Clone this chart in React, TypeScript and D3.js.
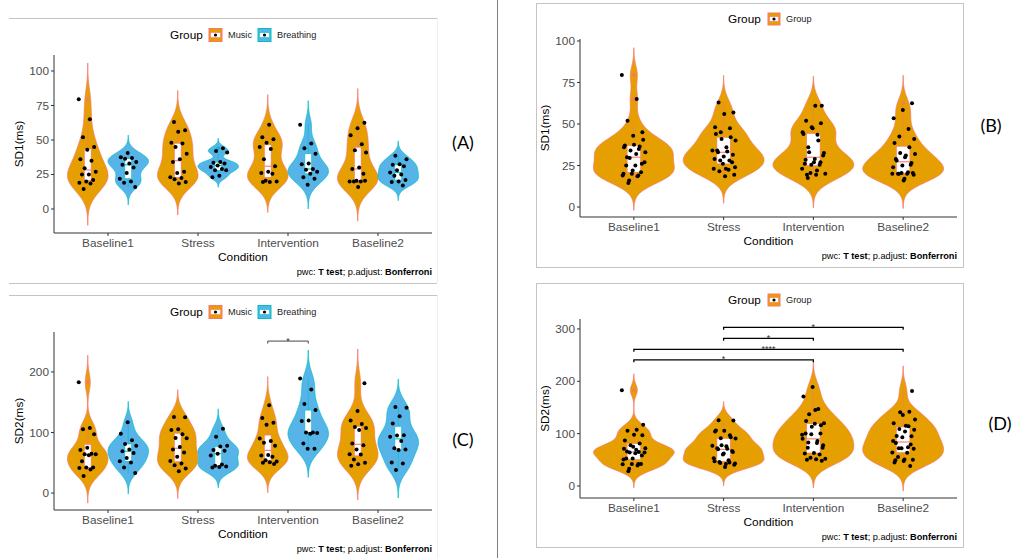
import React from "react";
import * as d3 from "d3";

const conditions = ["Baseline1", "Stress", "Intervention", "Baseline2"];

// SD1 (ms) by condition, per group
const sd1Music = [
  [79.5, 65, 52, 45, 43, 36, 35, 29.5, 27, 25, 25, 21, 20, 19, 18.5, 14.5],
  [63, 57, 56, 48, 47.5, 45, 40, 36, 34, 27, 26, 23, 22.5, 21.5, 19.5, 18.5],
  [61, 52, 50.5, 48, 45, 43.5, 36, 31, 27, 26, 25.5, 20.5, 20, 19.5, 19.5],
  [62.5, 58.5, 53.5, 47, 42.5, 41, 30, 29, 25.5, 20.5, 20, 20, 20, 20.5, 16],
];
const sd1Breathing = [
  [40.5, 37.5, 37, 36.5, 34, 33, 32, 30, 26, 22, 20, 19, 16],
  [44, 42, 41, 34, 33.5, 33, 31.5, 30.5, 29, 28, 28, 24, 23],
  [61, 47.5, 44, 40, 33, 32.5, 29, 28.5, 27, 25.5, 23, 22, 17.5],
  [38.5, 36, 32.5, 32, 31, 28, 26.5, 25, 24, 21, 20, 19.5, 17],
];

// SD2 (ms) by condition, per group
const sd2Music = [
  [183, 107.5, 105.5, 97, 75, 71, 65, 64, 64, 62.5, 52.5, 42, 42, 41.5, 39, 28],
  [125.5, 125, 105.5, 104, 97, 91, 90.5, 76, 72, 67, 60, 53, 49, 46, 40.5, 36],
  [145, 124, 116, 113, 90, 86, 83, 78, 63, 62, 60, 54, 52, 51, 50, 48],
  [181.5, 135.5, 120, 114, 109, 107.5, 104, 82, 79, 72, 64, 63.5, 55.5, 50, 47.5, 45],
];
const sd2Breathing = [
  [117, 98, 87, 81, 78, 72, 69, 66, 58, 52.5, 50.5, 42, 33],
  [106, 93, 78, 77, 71, 70, 65, 62, 47, 45, 44, 43, 42],
  [189, 171, 147, 137, 120, 119, 100, 100, 99, 98, 82, 73, 73],
  [142, 141, 127, 115, 95.5, 95, 93, 86, 74, 72, 71, 50.5, 49, 38],
];

const sd1Ticks = [0, 25, 50, 75, 100];
const sd2GroupTicks = [0, 100, 200];
const sd2AllTicks = [0, 100, 200, 300];

// pairwise comparisons: [condition, group index] pairs, bracket height (data units), label
const sd2GroupComparisons = [
  { from: ["Intervention", 0], to: ["Intervention", 1], y: 251, label: "*" },
];
const sd2ConditionComparisons = [
  { from: ["Stress", 0], to: ["Baseline2", 0], y: 303, label: "*" },
  { from: ["Stress", 0], to: ["Intervention", 0], y: 282, label: "*" },
  { from: ["Baseline1", 0], to: ["Baseline2", 0], y: 261, label: "****" },
  { from: ["Baseline1", 0], to: ["Intervention", 0], y: 241, label: "*" },
];

const ORANGE = "#E69F00";
const BLUE = "#56B4E9";
const RED = "#F8766D";
const CYAN = "#00BFC4";
const FONT = "'Liberation Sans', Arial, Helvetica, sans-serif";

const combined = (a: number[][], b: number[][]) => a.map((v, i) => [...v, ...b[i]]);

type Series = { name: string; fill: string; stroke: string; values: number[][] };
type Cmp = { from: (string | number)[]; to: (string | number)[]; y: number; label: string };

function kde(values: number[]) {
  const s = values.slice().sort((a, b) => a - b);
  const n = s.length;
  const sd = d3.deviation(s) || 0;
  const iqr = (d3.quantileSorted(s, 0.75) as number) - (d3.quantileSorted(s, 0.25) as number);
  let lo = Math.min(sd, iqr / 1.34);
  if (!(lo > 0)) lo = sd || 1;
  const bw = 0.9 * lo * Math.pow(n, -0.2);
  const a = s[0] - 3 * bw;
  const b = s[n - 1] + 3 * bw;
  const grid = d3.range(0, 241).map((i) => a + ((b - a) * i) / 240);
  const dens = grid.map((g) => d3.sum(s, (v) => Math.exp(-0.5 * ((g - v) / bw) ** 2)));
  const mx = d3.max(dens) || 1;
  return grid.map((g, i) => [g, dens[i] / mx] as [number, number]);
}

function boxStats(values: number[]) {
  const s = values.slice().sort((a, b) => a - b);
  const q1 = d3.quantileSorted(s, 0.25) as number;
  const med = d3.quantileSorted(s, 0.5) as number;
  const q3 = d3.quantileSorted(s, 0.75) as number;
  const iqr = q3 - q1;
  const inside = s.filter((v) => v >= q1 - 1.5 * iqr && v <= q3 + 1.5 * iqr);
  const lo = d3.min(inside) as number;
  const hi = d3.max(inside) as number;
  const out = s.filter((v) => v < q1 - 1.5 * iqr || v > q3 + 1.5 * iqr);
  return { q1, med, q3, lo, hi, out };
}

type PanelProps = {
  left: number;
  right: number;
  top: number;
  bottom: number;
  yDomain: [number, number];
  ticks: number[];
  yTitle: string;
  series: Series[];
  jitter: number;
  legendY: number;
  legendTitleX: number;
  keysX: number[];
  keySize: number;
  comparisons: Cmp[];
  bracketColor: string;
  bracketWidth: number;
  tag: string;
  tagX: number;
  tagY: number;
};

function Panel(p: PanelProps) {
  const x = d3.scalePoint<string>().domain(conditions).range([p.left, p.right]).padding(0.6);
  const y = d3.scaleLinear().domain(p.yDomain).range([p.bottom, p.top]);
  const step = x.step();
  const nG = p.series.length;
  const slot = (0.9 * step) / nG;
  const center = (c: string, g: number) => (x(c) as number) + (g - (nG - 1) / 2) * slot;
  const halfW = slot / 2;
  const boxW = (0.15 * step) / nG;

  const violins: React.ReactNode[] = [];
  const boxes: React.ReactNode[] = [];
  const points: React.ReactNode[] = [];

  p.series.forEach((s, gi) => {
    conditions.forEach((c, ci) => {
      const vals = s.values[ci];
      const cx = center(c, gi);
      const dens = kde(vals);
      const area = d3
        .area<[number, number]>()
        .y((d) => y(d[0]))
        .x0((d) => cx - d[1] * halfW)
        .x1((d) => cx + d[1] * halfW);
      violins.push(
        <path key={`v${gi}-${ci}`} d={area(dens) || ""} fill={s.fill} stroke={s.stroke} strokeWidth={0.8} />
      );
      const b = boxStats(vals);
      boxes.push(
        <g key={`b${gi}-${ci}`}>
          <line x1={cx} x2={cx} y1={y(b.q3)} y2={y(b.hi)} stroke={s.stroke} strokeWidth={0.6} />
          <line x1={cx} x2={cx} y1={y(b.q1)} y2={y(b.lo)} stroke={s.stroke} strokeWidth={0.6} />
          <rect
            x={cx - boxW / 2}
            y={y(b.q3)}
            width={boxW}
            height={y(b.q1) - y(b.q3)}
            fill="#ffffff"
            stroke={s.stroke}
            strokeWidth={0.6}
          />
          <line x1={cx - boxW / 2} x2={cx + boxW / 2} y1={y(b.med)} y2={y(b.med)} stroke={s.stroke} strokeWidth={1.1} />
          {b.out.map((v, k) => (
            <circle key={k} cx={cx} cy={y(v)} r={1.8} fill={s.stroke} />
          ))}
        </g>
      );
      vals.forEach((v, i) => {
        const off = ((i * 0.6180339887 + ci * 0.29 + gi * 0.47) % 1) * 2 - 1;
        points.push(<circle key={`p${gi}-${ci}-${i}`} cx={cx + off * p.jitter} cy={y(v)} r={2} fill="#000" />);
      });
    });
  });

  const axisColor = "#333333";
  const tickText = "#4D4D4D";

  return (
    <g>
      {violins}
      {boxes}
      {points}
      {p.comparisons.map((cmp, i) => {
        const x1 = center(cmp.from[0] as string, cmp.from[1] as number);
        const x2 = center(cmp.to[0] as string, cmp.to[1] as number);
        const yy = y(cmp.y);
        return (
          <g key={`c${i}`}>
            <path
              d={`M${x1},${yy + 2.5}V${yy}H${x2}V${yy + 2.5}`}
              fill="none"
              stroke={p.bracketColor}
              strokeWidth={p.bracketWidth}
            />
            <text x={(x1 + x2) / 2} y={yy + 2.5} fontSize={9} textAnchor="middle" fill="#333" fontFamily={FONT}>
              {cmp.label}
            </text>
          </g>
        );
      })}
      {/* axes */}
      <line x1={p.left} x2={p.left} y1={p.top} y2={p.bottom} stroke={axisColor} strokeWidth={1} />
      <line x1={p.left} x2={p.right} y1={p.bottom} y2={p.bottom} stroke={axisColor} strokeWidth={1} />
      {p.ticks.map((t) => (
        <g key={`yt${t}`}>
          <line x1={p.left - 3} x2={p.left} y1={y(t)} y2={y(t)} stroke={axisColor} />
          <text x={p.left - 5} y={y(t) + 4} fontSize={11.8} textAnchor="end" fill={tickText} fontFamily={FONT}>
            {t}
          </text>
        </g>
      ))}
      {conditions.map((c) => (
        <g key={`xt${c}`}>
          <line x1={x(c)} x2={x(c)} y1={p.bottom} y2={p.bottom + 3} stroke={axisColor} />
          <text x={x(c)} y={p.bottom + 14} fontSize={11.8} textAnchor="middle" fill={tickText} fontFamily={FONT}>
            {c}
          </text>
        </g>
      ))}
      <text
        x={(p.left + p.right) / 2}
        y={p.bottom + 28}
        fontSize={11.8}
        textAnchor="middle"
        fill="#000"
        fontFamily={FONT}
      >
        Condition
      </text>
      <text
        transform={`translate(${p.left - 31},${(p.top + p.bottom) / 2}) rotate(-90)`}
        fontSize={11.8}
        textAnchor="middle"
        fill="#000"
        fontFamily={FONT}
      >
        {p.yTitle}
      </text>
      <text x={p.right} y={p.bottom + 42} fontSize={9.2} textAnchor="end" fill="#000" fontFamily={FONT}>
        <tspan>pwc: </tspan>
        <tspan fontWeight="bold">T test</tspan>
        <tspan>; p.adjust: </tspan>
        <tspan fontWeight="bold">Bonferroni</tspan>
      </text>
      {/* legend */}
      <text x={p.legendTitleX} y={p.legendY + 4} fontSize={11.8} fill="#000" fontFamily={FONT}>
        Group
      </text>
      {p.series.map((s, i) => {
        const kx = p.keysX[i];
        const k = p.keySize;
        const ky = p.legendY - k / 2;
        return (
          <g key={`lg${i}`}>
            <rect x={kx} y={ky} width={k} height={k} fill={s.fill} stroke={s.stroke} strokeWidth={1} />
            <rect
              x={kx + 1.5}
              y={ky + k * 0.3}
              width={k - 3}
              height={k * 0.4}
              fill="#fff"
              stroke={s.stroke}
              strokeWidth={0.6}
            />
            <circle cx={kx + k / 2} cy={ky + k / 2} r={1.6} fill="#000" />
            <text x={kx + k + 6} y={p.legendY + 3.3} fontSize={9.2} fill="#222" fontFamily={FONT}>
              {s.name}
            </text>
          </g>
        );
      })}
      <text x={p.tagX} y={p.tagY} fontSize={18} textAnchor="middle" fill="#000" fontFamily="Lato, 'Open Sans', sans-serif">
        {p.tag}
      </text>
    </g>
  );
}

export default function App() {
  const groupSeries = (m: number[][], b: number[][]): Series[] => [
    { name: "Music", fill: ORANGE, stroke: RED, values: m },
    { name: "Breathing", fill: BLUE, stroke: CYAN, values: b },
  ];
  const allSeries = (m: number[][], b: number[][]): Series[] => [
    { name: "Group", fill: ORANGE, stroke: RED, values: combined(m, b) },
  ];
  const frame = "#c4c4c4";
  return (
    <svg
      width={1018}
      height={558}
      style={{ position: "absolute", left: 0, top: 0, display: "block", background: "#fff" }}
    >
      <rect x={0} y={0} width={1018} height={558} fill="#fff" />
      {/* frames */}
      <line x1={9} x2={437} y1={18.5} y2={18.5} stroke={frame} />
      <line x1={9} x2={437} y1={283.5} y2={283.5} stroke={frame} />
      <line x1={9} x2={437} y1={295.5} y2={295.5} stroke={frame} />
      <line x1={437.5} x2={437.5} y1={18} y2={283} stroke="#eeeeee" />
      <line x1={437.5} x2={437.5} y1={295} y2={558} stroke="#eeeeee" />
      <line x1={497.5} x2={497.5} y1={0} y2={558} stroke="#7f7f7f" />
      <rect x={536.5} y={3.5} width={427} height={264} fill="none" stroke={frame} />
      <rect x={536.5} y={283.5} width={427} height={264} fill="none" stroke={frame} />

      <Panel
        left={54}
        right={432}
        top={55}
        bottom={233}
        yDomain={[-17.4, 111.6]}
        ticks={sd1Ticks}
        yTitle="SD1(ms)"
        series={groupSeries(sd1Music, sd1Breathing)}
        jitter={9}
        legendY={35}
        legendTitleX={170}
        keysX={[209, 258]}
        keySize={13}
        comparisons={[]}
        bracketColor="#333"
        bracketWidth={1}
        tag="(A)"
        tagX={463}
        tagY={149}
      />
      <Panel
        left={580}
        right={957}
        top={39}
        bottom={217}
        yDomain={[-6, 101.2]}
        ticks={sd1Ticks}
        yTitle="SD1(ms)"
        series={allSeries(sd1Music, sd1Breathing)}
        jitter={12}
        legendY={19}
        legendTitleX={728}
        keysX={[768]}
        keySize={12}
        comparisons={[]}
        bracketColor="#000"
        bracketWidth={1.2}
        tag="(B)"
        tagX={991}
        tagY={132}
      />
      <Panel
        left={54}
        right={432}
        top={332}
        bottom={510}
        yDomain={[-28, 266]}
        ticks={sd2GroupTicks}
        yTitle="SD2(ms)"
        series={groupSeries(sd2Music, sd2Breathing)}
        jitter={9}
        legendY={312}
        legendTitleX={170}
        keysX={[209, 258]}
        keySize={13}
        comparisons={sd2GroupComparisons}
        bracketColor="#444"
        bracketWidth={1}
        tag="(C)"
        tagX={463}
        tagY={446}
      />
      <Panel
        left={580}
        right={957}
        top={319}
        bottom={498}
        yDomain={[-23, 319]}
        ticks={sd2AllTicks}
        yTitle="SD2(ms)"
        series={allSeries(sd2Music, sd2Breathing)}
        jitter={12}
        legendY={300}
        legendTitleX={728}
        keysX={[768]}
        keySize={12}
        comparisons={sd2ConditionComparisons}
        bracketColor="#000"
        bracketWidth={1.3}
        tag="(D)"
        tagX={1000}
        tagY={430}
      />
    </svg>
  );
}
